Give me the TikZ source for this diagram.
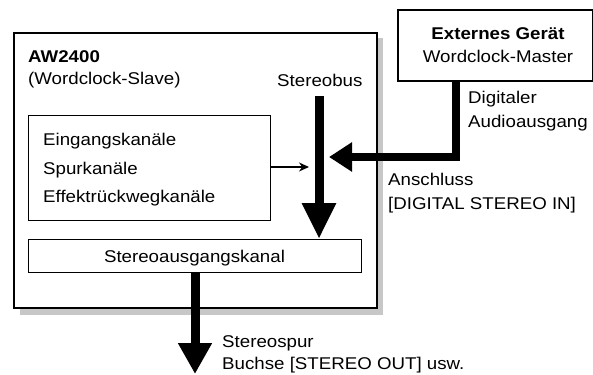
\documentclass[tikz,border=0pt]{standalone}
\usepackage{fontspec}
\setmainfont[FakeStretch=1.1]{Liberation Sans}
\usetikzlibrary{arrows.meta}
\begin{document}
\begin{tikzpicture}[x=1pt,y=-1pt,
  txt/.style={inner sep=0pt,font=\fontsize{17}{20}\selectfont},
  lbl/.style={txt,anchor=base west},
  unitbox/.style={draw,line width=2pt,anchor=north west,inner sep=0pt},
  chanbox/.style={draw,line width=0.9pt,anchor=north west,inner sep=0pt},
  busarrow/.style={line width=9pt,-{Triangle[length=36pt,width=32pt]}},
  inarrow/.style={line width=8pt,line join=miter,-{Triangle[length=23pt,width=28pt]}},
  outarrow/.style={line width=9pt,-{Triangle[length=31pt,width=32pt]}},
  thinarrow/.style={line width=1.2pt,-{Stealth[length=10pt,width=9pt]}}]
\useasboundingbox (0,0) rectangle (593,374);

% drop shadow and main unit
\fill[black!22] (20,38) rectangle (383,315);
\node[unitbox,fill=white,minimum width=363pt,minimum height=275pt] (aw) at (13,32) {};

% external device
\node[unitbox,fill=white,minimum width=195pt,minimum height=71pt] (ext) at (397,9) {};
\node[txt,anchor=base] (extname) at (498,40) {\bfseries Externes Gerät};
\node[txt,anchor=base] (extrole) at (498,63) {Wordclock-Master};

% inner channel boxes
\node[chanbox,minimum width=242pt,minimum height=105pt] (chans) at (28,115) {};
\node[chanbox,minimum width=333pt,minimum height=33pt] (out) at (28,239) {};
\node[txt,anchor=base] (outname) at (194.5,262) {Stereoausgangskanal};

% labels
\node[lbl] (awname) at (28,63) {\bfseries AW2400};
\node[lbl] (awrole) at (28,85) {(Wordclock-Slave)};
\node[lbl] (busname) at (277,87) {Stereobus};
\node[lbl] (ch1) at (43,146) {Eingangskanäle};
\node[lbl] (ch2) at (43,174) {Spurkanäle};
\node[lbl] (ch3) at (43,202) {Effektrückwegkanäle};
\node[lbl] (dig1) at (468,104) {Digitaler};
\node[lbl] (dig2) at (468,128) {Audioausgang};
\node[lbl] (conn1) at (388,185) {Anschluss};
\node[lbl] (conn2) at (388,209) {[DIGITAL STEREO IN]};
\node[lbl] (sp1) at (222,347) {Stereospur};
\node[lbl] (sp2) at (222,369) {Buchse [STEREO OUT] usw.};

% signal paths
\coordinate (bustop) at (319,96);
\coordinate (extout) at (456,80);
\coordinate (injoin) at (329,157);
\coordinate (chanjoin) at (309,167);
\coordinate (outend) at (195,374);

\draw[busarrow] (bustop) -- (bustop |- out.north);
\draw[inarrow] (ext.south -| extout) |- (injoin);
\draw[thinarrow] (chans.east |- chanjoin) -- (chanjoin);
\draw[outarrow] (out.south -| outend) -- (outend);
\end{tikzpicture}
\end{document}
